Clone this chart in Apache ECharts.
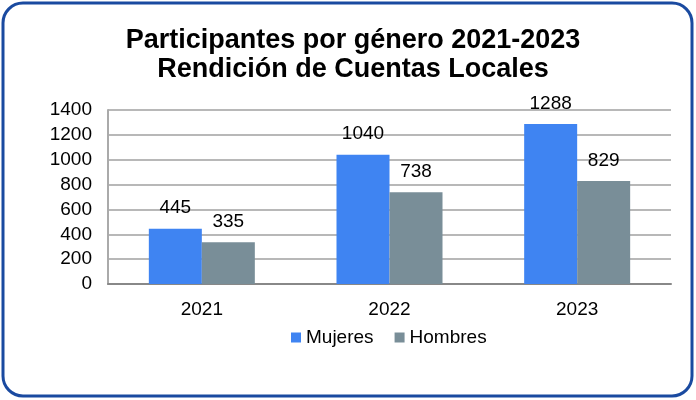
<!DOCTYPE html>
<html>
<head>
<meta charset="utf-8">
<script src="https://cdn.jsdelivr.net/npm/echarts@6/dist/echarts.min.js"></script>
<style>
  html, body { margin: 0; padding: 0; background: #fff; }
  #main { width: 696px; height: 400px; }
</style>
</head>
<body>
<div id="main"></div>
<script>
var years = ['2021', '2022', '2023']
var mujeres = [445, 1040, 1288]
var hombres = [335, 738, 829]
var yTicks = { min: 0, max: 1400, step: 200 }

var chart = echarts.init(document.getElementById('main'))
var font = 'Liberation Sans, Arial, sans-serif'

var option = {
  backgroundColor: '#fff',
  animation: false,
  textStyle: { fontFamily: font },
  title: {
    text: 'Participantes por género 2021-2023\nRendición de Cuentas Locales',
    left: 348,
    textAlign: 'center',
    top: 21,
    textStyle: {
      fontFamily: font,
      fontSize: 27,
      fontWeight: 'bold',
      color: '#000',
      lineHeight: 29
    }
  },
  graphic: [{
    type: 'rect',
    shape: { x: 3, y: 3, width: 689, height: 393, r: 20 },
    style: { fill: 'none', stroke: '#1a4aa0', lineWidth: 3 },
    z: 100
  }],
  legend: {
    data: ['Mujeres', 'Hombres'],
    left: 286,
    top: 323,
    itemWidth: 10,
    itemHeight: 10,
    itemGap: 21,
    icon: 'rect',
    textStyle: { fontFamily: font, fontSize: 19, color: '#000' }
  },
  grid: {
    left: 108,
    right: 25,
    top: 110,
    bottom: 116
  },
  xAxis: {
    type: 'category',
    data: years,
    axisTick: { show: false },
    axisLine: { lineStyle: { color: '#888', width: 2 } },
    axisLabel: { color: '#000', fontSize: 19, fontFamily: font, margin: 16 }
  },
  yAxis: {
    type: 'value',
    min: yTicks.min,
    max: yTicks.max,
    interval: yTicks.step,
    axisLine: { show: true, lineStyle: { color: '#aaa', width: 2 } },
    axisTick: { show: false },
    axisLabel: {
      color: '#000', fontSize: 19, fontFamily: font, margin: 16,
      formatter: function (v) { return String(v) }
    },
    splitLine: { lineStyle: { color: '#b8b8b8', width: 2 } }
  },
  series: [
    {
      name: 'Mujeres',
      type: 'bar',
      data: mujeres,
      barWidth: 53,
      barGap: '0%',
      itemStyle: { color: '#3f84f2' },
      label: { show: true, position: 'top', color: '#000', fontSize: 19, fontFamily: font, distance: 11 }
    },
    {
      name: 'Hombres',
      type: 'bar',
      data: hombres,
      barWidth: 53,
      itemStyle: { color: '#798e98' },
      label: { show: true, position: 'top', color: '#000', fontSize: 19, fontFamily: font, distance: 11 }
    }
  ]
}
chart.setOption(option)
</script>
</body>
</html>
